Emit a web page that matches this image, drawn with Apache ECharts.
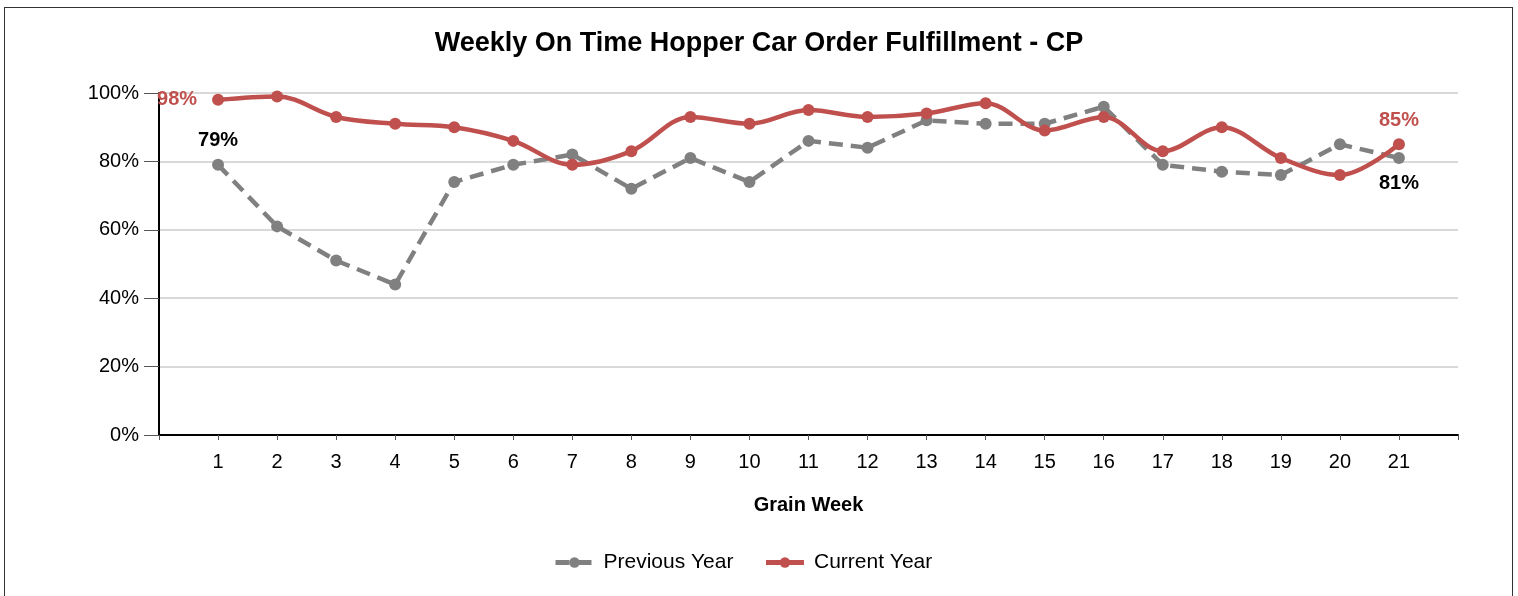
<!DOCTYPE html>
<html>
<head>
<meta charset="utf-8">
<script src="https://cdn.jsdelivr.net/npm/echarts@6/dist/echarts.min.js"></script>
<style>
  html, body { margin: 0; padding: 0; background: #fff; }
  #frame { position: absolute; left: 4px; top: 7px; width: 1509px; height: 620px; border: 1px solid #333; box-sizing: border-box; }
  #main { position: absolute; left: 0; top: 0; width: 1518px; height: 596px; }
</style>
</head>
<body>
<div id="frame"></div>
<div id="main"></div>
<script>
  // 数据
  const weeks = [1, 2, 3, 4, 5, 6, 7, 8, 9, 10, 11, 12, 13, 14, 15, 16, 17, 18, 19, 20, 21];
  const previousYear = [79, 61, 51, 44, 74, 79, 82, 72, 81, 74, 86, 84, 92, 91, 91, 96, 79, 77, 76, 85, 81];
  const currentYear = [98, 99, 93, 91, 90, 86, 79, 83, 93, 91, 95, 93, 94, 97, 89, 93, 83, 90, 81, 76, 85];

  const font = "Liberation Sans, Arial, sans-serif";
  const red = "#c0504d";
  const gray = "#808080";

  // 首尾点加标签
  const toPoints = (vals, firstLabel, lastLabel) =>
    vals.map((v, i) => {
      const p = { value: [weeks[i], v] };
      if (i === 0 && firstLabel) p.label = firstLabel;
      if (i === vals.length - 1 && lastLabel) p.label = lastLabel;
      return p;
    });

  const labelStyle = (color, position, distance) => ({
    show: true,
    position,
    distance,
    color,
    fontFamily: font,
    fontSize: 20,
    fontWeight: "bold",
    formatter: (p) => p.value[1] + "%",
  });

  const myChart = echarts.init(document.getElementById("main"));
  myChart.setOption({
    animation: false,
    title: {
      text: "Weekly On Time Hopper Car Order Fulfillment - CP",
      left: "center",
      top: 25,
      textStyle: { fontFamily: font, fontSize: 27, fontWeight: "bold", color: "#000" },
    },
    grid: { left: 159, right: 60, top: 93, bottom: 161 },
    legend: {
      top: 547,
      left: 548,
      itemWidth: 38,
      itemHeight: 13,
      itemGap: 30,
      lineStyle: { width: 5 },
      textStyle: { fontFamily: font, fontSize: 21, color: "#000", padding: [0, 0, 0, 5] },
      data: ["Previous Year", "Current Year"],
    },
    xAxis: {
      type: "value",
      min: 0,
      max: 22,
      interval: 1,
      name: "Grain Week",
      nameLocation: "middle",
      nameGap: 60,
      nameTextStyle: { fontFamily: font, fontSize: 20, fontWeight: "bold", color: "#000" },
      axisLine: { lineStyle: { color: "#000", width: 2 } },
      axisTick: { length: 5, lineStyle: { color: "#555" } },
      axisLabel: {
        fontFamily: font,
        fontSize: 20,
        color: "#000",
        margin: 17,
        formatter: (v) => (v >= 1 && v <= 21 ? String(v) : ""),
      },
      splitLine: { show: false },
    },
    yAxis: {
      type: "value",
      min: 0,
      max: 100,
      interval: 20,
      axisLine: { show: true, lineStyle: { color: "#000", width: 2 } },
      axisTick: { show: true, length: 15, lineStyle: { color: "#555" } },
      axisLabel: { fontFamily: font, fontSize: 20, color: "#000", margin: 20, formatter: "{value}%" },
      splitLine: { lineStyle: { color: "#d9d9d9", width: 2 } },
    },
    series: [
      {
        name: "Previous Year",
        type: "line",
        data: toPoints(previousYear, labelStyle("#000", "top", 8), labelStyle("#000", "bottom", 10)),
        symbol: "circle",
        symbolSize: 12,
        itemStyle: { color: gray },
        lineStyle: { color: gray, width: 4.5, type: [14, 8] },
        z: 2,
      },
      {
        name: "Current Year",
        type: "line",
        smooth: 0.35,
        data: toPoints(currentYear, labelStyle(red, "left", 15), labelStyle(red, "top", 8)),
        symbol: "circle",
        symbolSize: 12,
        itemStyle: { color: red },
        lineStyle: { color: red, width: 4.5 },
        z: 3,
      },
    ],
  });
</script>
</body>
</html>
